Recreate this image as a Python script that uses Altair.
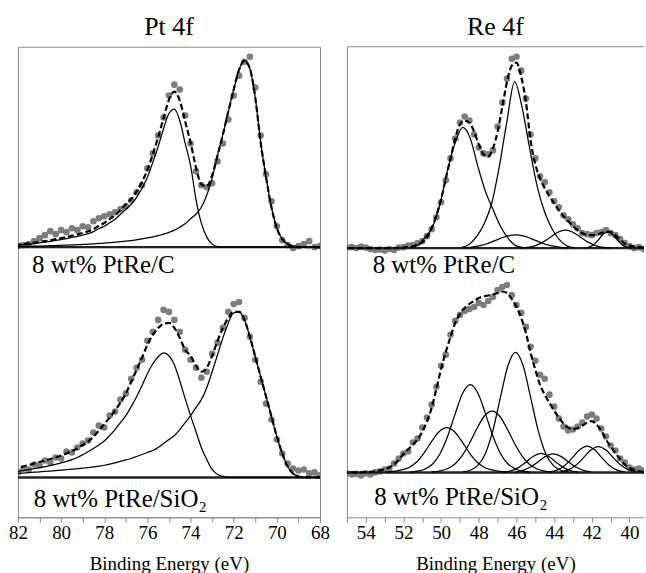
import altair as alt
import pandas as pd

FONT = "Liberation Serif"
FRAME = "#8a8a8a"
DOT = "#7d7d7d"

# ---------------- Pt 4f (binding energy grid, eV) ----------------
pt_energy = [82.0, 81.75, 81.5, 81.25, 81.0, 80.75, 80.5, 80.25,
             80.0, 79.75, 79.5, 79.25, 79.0, 78.75, 78.5, 78.25,
             78.0, 77.75, 77.5, 77.25, 77.0, 76.75, 76.5, 76.25,
             76.0, 75.75, 75.5, 75.25, 75.0, 74.75, 74.5, 74.25,
             74.0, 73.75, 73.5, 73.25, 73.0, 72.75, 72.5, 72.25,
             72.0, 71.75, 71.5, 71.25, 71.0, 70.75, 70.5, 70.25,
             70.0, 69.75, 69.5, 69.25, 69.0, 68.75, 68.5, 68.25,
             68.0]

# 8 wt% PtRe/C
ptc_counts = [1, 2, 3, 6, 9, 12, 16, 13,
              17, 15, 19, 17, 21, 20, 26, 29,
              31, 33, 35, 38, 41, 47, 55, 62,
              79, 94, 112, 130, 152, 163, 158, 132,
              104, 76, 62, 60, 64, 86, 104, 128,
              152, 172, 186, 191, 160, 112, 73, 46,
              21, 7, 2, -1, 1, 3, 6, 0,
              1]
ptc_envelope = [2.6, 3.1, 3.7, 4.4, 5.2, 6.0, 6.9, 8.0,
                9.0, 10.2, 11.5, 12.7, 14.2, 15.9, 18.1, 21.5,
                24.2, 28.0, 32.0, 37.3, 42.8, 48.3, 55.8, 65.6,
                77.4, 93.2, 110.3, 129.4, 148, 156, 147, 126,
                105, 80, 63, 61, 72, 92, 113, 136,
                158, 178, 187, 179, 150, 105, 70, 40,
                19, 8, 3, 1, 0.3, 0, 0, 0,
                0]
ptc_4f52 = [2.0, 2.5, 3.0, 3.6, 4.3, 5.0, 5.8, 6.7,
            7.6, 8.6, 9.7, 10.8, 12.0, 13.5, 15.5, 18.5,
            21.0, 24.5, 28.0, 33.0, 38.0, 43.0, 50.0, 59.0,
            70.0, 85.0, 101.0, 119.0, 134.0, 138.5, 127.0, 104.0,
            82.0, 48.0, 24.0, 10.0, 3.0, 0.5, 0, 0,
            0, 0, 0, 0, 0, 0, 0, 0,
            0, 0, 0, 0, 0, 0, 0, 0,
            0]
ptc_4f72 = [0.7, 0.8, 0.9, 1.0, 1.1, 1.2, 1.4, 1.6,
            1.8, 2.0, 2.2, 2.4, 2.7, 3.0, 3.3, 3.7,
            4.0, 4.4, 4.9, 5.4, 6.0, 6.6, 7.3, 8.2,
            9.2, 10.3, 11.6, 13.0, 14.8, 17.0, 20.0, 23.5,
            28.5, 33.0, 40.0, 52.0, 69.0, 92.0, 113.0, 136.0,
            158.0, 178.0, 187.0, 179.0, 150.0, 105.0, 70.0, 40.0,
            19.0, 8.0, 3.0, 1.0, 0.3, 0, 0, 0,
            0]

# 8 wt% PtRe/SiO2
pts_counts = [5, 9, 8, 13, 12, 17, 15, 20,
              19, 26, 25, 30, 34, 37, 45, 52,
              50, 62, 66, 78, 84, 99, 110, 118,
              137, 146, 158, 168, 166, 158, 146, 128,
              118, 110, 100, 106, 124, 135, 150, 166,
              174, 176, 160, 141, 118, 96, 74, 58,
              38, 24, 14, 9, 7, 8, 4, 5,
              2]
pts_envelope = [10, 11, 12.5, 14, 15.5, 17, 18.5, 20,
                22, 24, 26.5, 29, 32.5, 36, 41, 47,
                53.5, 60, 67, 75, 84, 96, 108, 120,
                133, 143, 150, 154, 155, 150, 140, 128,
                122, 112, 106, 110, 122, 137, 150, 160,
                166, 166, 158, 141, 121, 101, 81, 61,
                41, 24, 11, 4, 1, 0, 0, 0,
                0]
pts_4f52 = [6.0, 6.8, 7.8, 8.8, 9.8, 10.8, 11.8, 13.0,
            14.5, 16.0, 17.8, 20.0, 22.8, 25.8, 29.0, 32.5,
            36.5, 42.0, 48.0, 55.0, 62.0, 71.0, 81.0, 92.0,
            104.0, 114.0, 121.0, 125.0, 122.0, 113.0, 97.0, 79.0,
            62.0, 46.0, 30.0, 18.0, 8.0, 3.0, 1.0, 0.3,
            0, 0, 0, 0, 0, 0, 0, 0,
            0, 0, 0, 0, 0, 0, 0, 0,
            0]
pts_4f72 = [4.0, 4.4, 4.8, 5.2, 5.6, 6.0, 6.4, 6.8,
            7.2, 7.7, 8.2, 8.7, 9.3, 9.9, 10.6, 11.4,
            12.2, 13.3, 14.5, 16.0, 17.5, 19.0, 21.0, 23.0,
            25.0, 27.0, 30.0, 34.0, 38.0, 42.0, 48.0, 55.0,
            62.0, 70.0, 78.0, 90.0, 106.0, 123.0, 140.0, 155.0,
            165.0, 166.0, 158.0, 141.0, 121.0, 101.0, 81.0, 61.0,
            41.0, 24.0, 11.0, 4.0, 1.0, 0, 0, 0,
            0]

# ---------------- Re 4f (binding energy grid, eV) ----------------
re_energy = [55.0, 54.75, 54.5, 54.25, 54.0, 53.75, 53.5, 53.25,
             53.0, 52.75, 52.5, 52.25, 52.0, 51.75, 51.5, 51.25,
             51.0, 50.75, 50.5, 50.25, 50.0, 49.75, 49.5, 49.25,
             49.0, 48.75, 48.5, 48.25, 48.0, 47.75, 47.5, 47.25,
             47.0, 46.75, 46.5, 46.25, 46.0, 45.75, 45.5, 45.25,
             45.0, 44.75, 44.5, 44.25, 44.0, 43.75, 43.5, 43.25,
             43.0, 42.75, 42.5, 42.25, 42.0, 41.75, 41.5, 41.25,
             41.0, 40.75, 40.5, 40.25, 40.0, 39.75, 39.5, 39.25]

# 8 wt% PtRe/C
rec_counts = [0.5, 1, 0, 1.5, 0.5, -1, -2, -1.5,
              -2.5, -1, -2, 0.5, 1, 2.5, 3, 5,
              7, 12, 19, 31, 46, 68, 90, 110,
              126, 132, 128, 114, 101, 95, 94, 98,
              122, 146, 170, 190, 192, 178, 150, 114,
              90, 72, 66, 56, 47, 41, 33, 29,
              24, 20, 15, 14, 13, 15, 16, 18,
              15, 13, 9, 5, 2, 0, 1, -1]
rec_envelope = [0, 0, 0, 0, 0, 0, 0, 0,
                0, 0, 0.1, 0.3, 0.6, 1.2, 2.0, 3.5,
                6.0, 11, 20, 33, 49, 70, 90, 110,
                124, 128, 126, 117, 104, 94, 92, 100,
                117, 142, 167, 183, 186, 172, 147, 108,
                84, 70, 60, 52, 45, 38, 32, 27,
                22, 18, 15, 13.5, 13, 13.5, 15, 16.5,
                16, 13, 8.5, 4.5, 2.5, 1.5, 1.0, 0.5]
rec_a_energy = [48.9, 48.5, 48.1, 47.7, 47.3, 46.9, 46.5, 46.1,
                45.7, 45.3, 44.9, 44.5, 44.1, 43.7, 43.3, 42.9]
rec_a = [0.8, 4, 12, 25, 46, 83, 128, 167, 141, 100, 62, 36, 19, 8, 2, 0.3]
rec_b_energy = [51.65, 51.25, 50.85, 50.45, 50.05, 49.65, 49.25, 48.85,
                48.45, 48.05, 47.65, 47.25, 46.85, 46.45, 46.05, 45.65]
rec_b = [0.5, 3, 11, 21.5, 45, 79, 106, 121, 110, 82, 57, 39, 22, 10, 2.5, 0.5]
rec_c_energy = [48.85, 48.45, 48.05, 47.65, 47.25, 46.85, 46.45, 46.05,
                45.65, 45.25, 44.85, 44.45, 44.05, 43.65, 43.25]
rec_c = [0.3, 0.8, 1.9, 3.9, 6.7, 9.8, 12.3, 13.3, 12.3, 9.8, 6.7, 3.9, 1.9, 0.8, 0.3]
rec_d_energy = [45.8, 45.4, 45.0, 44.6, 44.2, 43.8, 43.4, 43.0, 42.6, 42.2, 41.8, 41.4, 41.0]
rec_d = [0.2, 0.8, 2.5, 6.0, 11.0, 15.9, 18, 15.9, 11.0, 6.0, 2.5, 0.8, 0.2]
rec_f_energy = [42.4, 42.15, 41.9, 41.65, 41.4, 41.15, 40.9, 40.65, 40.4, 40.15, 39.9]
rec_f = [0.2, 1.0, 3.5, 8.3, 13.9, 16.5, 13.9, 8.3, 3.5, 1.0, 0.2]

# 8 wt% PtRe/SiO2
res_counts = [-1, -2, -1.5, -3, -1, -2, 0, 1,
              3, 4, 9, 14, 19, 21, 30, 34,
              45, 55, 68, 86, 107, 118, 138, 152,
              158, 162, 164, 166, 170, 168, 172, 176,
              183, 186, 188, 178, 168, 160, 146, 126,
              112, 98, 94, 78, 66, 54, 46, 42,
              43, 46, 50, 56, 58, 54, 44, 36,
              27, 22, 14, 10, 5, 3, 4, 2]
res_envelope = [0, 0, 0, 0.2, 0.4, 0.7, 1.2, 2,
                3.2, 5, 8, 12.5, 18.5, 23, 28, 33,
                41, 51, 65, 84, 104, 121, 136, 150,
                159, 165, 169, 172, 175, 176.5, 177.5, 178.5,
                180, 181.5, 180, 174, 166, 155, 140, 120,
                103, 88, 78, 70, 62, 55, 49, 45,
                43.5, 44.5, 47, 50, 51.5, 48, 42, 33,
                26, 19.5, 13.5, 8, 4.5, 2.5, 1.2, 0.5]
res_p1_energy = [52.9, 52.5, 52.1, 51.7, 51.3, 50.9, 50.5, 50.1, 49.7,
                 49.3, 48.9, 48.5, 48.1, 47.7, 47.3, 46.9, 46.5]
res_p1 = [0.3, 1, 2.5, 5, 10.4, 19.7, 31.2, 41.1, 45, 41.1, 31.2, 19.7, 10.4, 5, 2.5, 1, 0.3]
res_p2_energy = [51.65, 51.25, 50.85, 50.45, 50.05, 49.65, 49.25, 48.85, 48.45,
                 48.05, 47.65, 47.25, 46.85, 46.45, 46.05, 45.65, 45.25]
res_p2 = [0.4, 1.2, 3.5, 8.5, 19, 36.5, 59, 79.6, 88, 79.6, 59, 36.5, 19, 8.5, 3.5, 1.2, 0.4]
res_p3_energy = [50.5, 50.1, 49.7, 49.3, 48.9, 48.5, 48.1, 47.7, 47.3,
                 46.9, 46.5, 46.1, 45.7, 45.3, 44.9, 44.5, 44.1]
res_p3 = [0.5, 1.3, 3.4, 8, 16.4, 29, 44, 56.6, 61.5, 56.6, 44, 29, 16.4, 8, 3.4, 1.3, 0.5]
res_p4_energy = [48.85, 48.45, 48.05, 47.65, 47.25, 46.85, 46.45, 46.05,
                 45.65, 45.25, 44.85, 44.45, 44.05, 43.65, 43.25]
res_p4 = [0.6, 2.2, 7, 19, 42.2, 75.5, 107.3, 120.5, 107.3, 75.5, 42.2, 19, 7, 2.2, 0.6]
res_p5_energy = [46.7, 46.3, 45.9, 45.5, 45.1, 44.7, 44.3, 43.9, 43.5, 43.1, 42.7]
res_p5 = [0.4, 1.6, 4.8, 10.3, 16.3, 19, 16.3, 10.3, 4.8, 1.6, 0.4]
res_p6_energy = [46.05, 45.65, 45.25, 44.85, 44.45, 44.05, 43.65, 43.25, 42.85, 42.45, 42.05]
res_p6 = [0.6, 2.1, 5.4, 10.7, 16.1, 18.5, 16.1, 10.7, 5.4, 2.1, 0.6]
res_p7_energy = [44.25, 43.85, 43.45, 43.05, 42.65, 42.25, 41.85, 41.45, 41.05, 40.65, 40.25]
res_p7 = [0.5, 2.3, 6.6, 14.3, 22.7, 26.5, 22.7, 14.3, 6.6, 2.3, 0.5]
res_p8_energy = [43.65, 43.25, 42.85, 42.45, 42.05, 41.65, 41.25, 40.85, 40.45, 40.05, 39.65]
res_p8 = [0.7, 2.6, 7.1, 14.6, 22.5, 26, 22.5, 14.6, 7.1, 2.6, 0.7]

pt_ticks = [82, 81, 80, 79, 78, 77, 76, 75, 74, 73, 72, 71, 70, 69, 68]
re_ticks = [55, 54, 53, 52, 51, 50, 49, 48, 47, 46, 45, 44, 43, 42, 41, 40]

PLOT_H = 472


def build_frames(panels):
    sc, env, comp = [], [], []
    for p in panels:
        off = p["offset"]
        assert len(p["energy"]) == len(p["counts"]) == len(p["envelope"])
        for e, c, f in zip(p["energy"], p["counts"], p["envelope"]):
            sc.append({"energy": e, "y": c + off, "panel": p["name"]})
            env.append({"energy": e, "y": f + off, "panel": p["name"]})
        for cname, ce, ci in p["components"]:
            assert len(ce) == len(ci)
            for e, v in zip(ce, ci):
                comp.append({"energy": e, "y": v + off, "curve": p["name"] + cname})
    return pd.DataFrame(sc), pd.DataFrame(env), pd.DataFrame(comp)


def column(title, domain, ticks, width, panels, labels, open_right):
    sc, env, comp = build_frames(panels)
    xaxis = alt.Axis(values=ticks, labelExpr="datum.value % 2 == 0 ? datum.label : ''",
                     title="Binding Energy (eV)", titleFont=FONT, titleFontSize=19,
                     titleFontWeight="normal", titleColor="black", titleBaseline="alphabetic",
                     titleY=52, labelFont=FONT, labelFontSize=19, labelColor="black",
                     labelPadding=1, labelFlush=False, labelOverlap=False,
                     tickSize=5, tickColor=FRAME, domainColor=FRAME, grid=False)
    if open_right:
        yaxis = alt.Axis(labels=False, ticks=False, title=None, grid=False,
                         domainColor=FRAME, domainWidth=1)
    else:
        yaxis = None
    xenc = alt.X("energy:Q", scale=alt.Scale(domain=domain, nice=False, zero=False), axis=xaxis)
    yenc = alt.Y("y:Q", scale=alt.Scale(domain=[0, PLOT_H], nice=False, zero=False), axis=yaxis)

    layers = []
    layers.append(alt.Chart(sc).mark_circle(size=44, color=DOT, opacity=1, clip=True)
                  .encode(x=xenc, y=yenc, detail="panel:N"))
    base = pd.DataFrame({"y": [p["offset"] for p in panels]})
    layers.append(alt.Chart(base).mark_rule(color="#222222", strokeWidth=2.5)
                  .encode(y=yenc))
    layers.append(alt.Chart(comp).mark_line(color="black", strokeWidth=1.25,
                                            interpolate="monotone", clip=True)
                  .encode(x=xenc, y=yenc, detail="curve:N", order="energy:Q"))
    layers.append(alt.Chart(env).mark_line(color="black", strokeWidth=2.2, strokeDash=[6, 3],
                                           interpolate="monotone", clip=True)
                  .encode(x=xenc, y=yenc, detail="panel:N", order="energy:Q"))
    for text, px, py in labels:
        layers.append(alt.Chart(pd.DataFrame({"t": [text]}))
                      .mark_text(align="left", baseline="alphabetic", font=FONT,
                                 fontSize=25, color="black")
                      .encode(text="t:N", x=alt.value(px), y=alt.value(py)))
    layers.append(alt.Chart(pd.DataFrame({"t": [title]}))
                  .mark_text(align="center", baseline="alphabetic", font=FONT,
                             fontSize=26, color="black")
                  .encode(text="t:N", x=alt.value(width / 2), y=alt.value(-11.7)))
    if open_right:
        layers.append(alt.Chart(pd.DataFrame({"t": [0]}))
                      .mark_rule(color=FRAME, strokeWidth=1)
                      .encode(x=alt.value(0), x2=alt.value(width), y=alt.value(0)))
        view = alt.ViewBackground(stroke="transparent")
    else:
        view = alt.ViewBackground(stroke=FRAME, strokeWidth=1)
    return alt.layer(*layers).properties(width=width, height=PLOT_H, view=view)


pt_panels = [
    {"name": "PtRe/C", "offset": 271, "energy": pt_energy, "counts": ptc_counts,
     "envelope": ptc_envelope,
     "components": [("4f5/2", pt_energy, ptc_4f52), ("4f7/2", pt_energy, ptc_4f72)]},
    {"name": "PtRe/SiO2", "offset": 40, "energy": pt_energy, "counts": pts_counts,
     "envelope": pts_envelope,
     "components": [("4f5/2", pt_energy, pts_4f52), ("4f7/2", pt_energy, pts_4f72)]},
]
re_panels = [
    {"name": "PtRe/C", "offset": 270, "energy": re_energy, "counts": rec_counts,
     "envelope": rec_envelope,
     "components": [("a", rec_a_energy, rec_a), ("b", rec_b_energy, rec_b),
                    ("c", rec_c_energy, rec_c), ("d", rec_d_energy, rec_d),
                    ("f", rec_f_energy, rec_f)]},
    {"name": "PtRe/SiO2", "offset": 45, "energy": re_energy, "counts": res_counts,
     "envelope": res_envelope,
     "components": [("p1", res_p1_energy, res_p1), ("p2", res_p2_energy, res_p2),
                    ("p3", res_p3_energy, res_p3), ("p4", res_p4_energy, res_p4),
                    ("p5", res_p5_energy, res_p5), ("p6", res_p6_energy, res_p6),
                    ("p7", res_p7_energy, res_p7), ("p8", res_p8_energy, res_p8)]},
]

left = column("Pt 4f", [82, 68], pt_ticks, 303, pt_panels,
              [("8 wt% PtRe/C", 14.2, 226.7), ("8 wt% PtRe/SiO\u2082", 15.8, 461.7)],
              open_right=False)
right = column("Re 4f", [55, 39.23], re_ticks, 298, re_panels,
               [("8 wt% PtRe/C", 25.8, 226.7), ("8 wt% PtRe/SiO\u2082", 27.5, 460)],
               open_right=True)

chart = alt.hconcat(left, right, spacing=27, bounds="flush").properties(
    padding={"left": 8, "top": 12, "right": 0, "bottom": 0}
).configure(font=FONT)

chart.save("out.html", embed_options={"renderer": "svg", "actions": False})
